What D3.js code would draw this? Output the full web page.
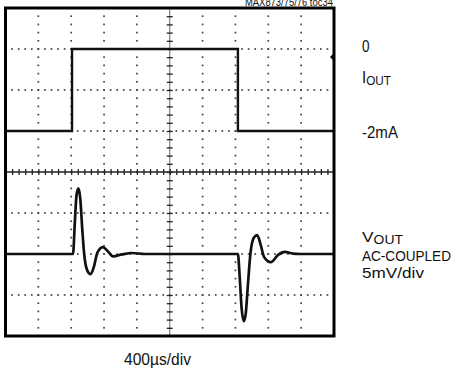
<!DOCTYPE html>
<html>
<head>
<meta charset="utf-8">
<script src="https://cdn.jsdelivr.net/npm/d3@7"></script>
<style>
  html, body { margin: 0; padding: 0; background: #fff; }
  svg { display: block; }
  text { font-family: "Liberation Sans", Arial, sans-serif; fill: #111; }
</style>
</head>
<body>
<svg id="scope" width="456" height="373"></svg>
<script>
// Time base: 10 divisions of 400 µs
const timeDivs = 10;
const usPerDiv = 400;
const ampDivs = 8;

// Output current step (mA): 0 mA between the two edges, -2 mA otherwise
const currentTime = [0, 810, 810, 2830, 2830, 4000];
const currentValue = [-2, -2, 0, 0, -2, -2];

// Output voltage, AC-coupled (mV)
const voltageTime = [0, 822, 845, 865, 888, 910, 935, 958, 995, 1035, 1075, 1120, 1185, 1245, 1310, 1420, 1540, 1700,
  2830, 2850, 2875, 2903, 2925, 2950, 2982, 3025, 3065, 3105, 3150, 3232, 3320, 3400, 3500, 3590, 4000];
const voltageValue = [0, 0, 4.0, 7.2, 8.0, 6.8, 3.0, 0, -2.0, -2.45, -1.6, 0.2, 0.85, 0.35, -0.3, -0.05, 0.12, 0,
  0, -2.5, -6.6, -8.2, -7.3, -4.0, 0, 2.0, 2.3, 1.2, -0.4, -1.0, -0.1, 0.25, 0.05, 0, 0];

// Labels
const rightLabels = ["0", "-2mA"];
const timeLabel = "400\u00B5s/div";
const voltLabelLines = ["AC-COUPLED", "5mV/div"];
const plotTitle = "MAX873/75/76 toc34";

const svg = d3.select("#scope");
const frame = { x0: 5.5, x1: 334, y0: 8, y1: 336 };

const x = d3.scaleLinear().domain([0, timeDivs * usPerDiv]).range([frame.x0, frame.x1]);
// Current channel: 1 mA/div, 0 mA one division below the top
const yI = d3.scaleLinear().domain([1, 1 - ampDivs]).range([frame.y0, frame.y1]);
// Voltage channel: 5 mV/div, 0 mV six divisions below the top
const yV = d3.scaleLinear().domain([30, 30 - 5 * ampDivs]).range([frame.y0, frame.y1]);
// Division grid scale for the graticule
const gy = d3.scaleLinear().domain([0, ampDivs]).range([frame.y0, frame.y1]);

const g = svg.append("g");

// Dotted graticule lines
const dotSize = 1.7;
const dots = [];
for (let i = 1; i < timeDivs; i++) {
  if (i === timeDivs / 2) continue;
  for (let k = 1; k < ampDivs * 5; k++) dots.push([x(i * usPerDiv), gy(k / 5)]);
}
for (let j = 1; j < ampDivs; j++) {
  if (j === ampDivs / 2) continue;
  for (let k = 1; k < timeDivs * 5; k++) dots.push([x(k * usPerDiv / 5), gy(j)]);
}
g.selectAll("rect.dot").data(dots).join("rect")
  .attr("class", "dot")
  .attr("x", d => d[0] - dotSize / 2).attr("y", d => d[1] - dotSize / 2)
  .attr("width", dotSize).attr("height", dotSize)
  .attr("fill", "#444");

// Centre axes with minor ticks
const cx = x(timeDivs / 2 * usPerDiv);
const cy = gy(ampDivs / 2);
g.append("line").attr("x1", frame.x0).attr("x2", frame.x1).attr("y1", cy).attr("y2", cy)
  .attr("stroke", "#222").attr("stroke-width", 1.3);
g.append("line").attr("x1", cx).attr("x2", cx).attr("y1", frame.y0).attr("y2", frame.y1)
  .attr("stroke", "#555").attr("stroke-width", 0.9);

const minorT = d3.range(1, timeDivs * 5).map(k => k * usPerDiv / 5);
const hAxis = d3.axisBottom(x).tickValues(minorT).tickSize(6).tickFormat("");
g.append("g").attr("transform", `translate(0,${cy - 3})`).call(hAxis)
  .call(s => s.select(".domain").remove())
  .call(s => s.selectAll(".tick line").attr("stroke", "#222").attr("stroke-width", 1.3));

const minorA = d3.range(1, ampDivs * 5).map(k => k / 5);
const vAxis = d3.axisRight(gy).tickValues(minorA).tickSize(6).tickFormat("");
g.append("g").attr("transform", `translate(${cx - 3},0)`).call(vAxis)
  .call(s => s.select(".domain").remove())
  .call(s => s.selectAll(".tick line").attr("stroke", "#222").attr("stroke-width", 1.3));

// Traces
const iLine = d3.line().x(d => x(d[0])).y(d => yI(d[1]));
g.append("path").datum(d3.zip(currentTime, currentValue))
  .attr("d", iLine).attr("fill", "none").attr("stroke", "#111").attr("stroke-width", 2.4);

const vLine = d3.line().x(d => x(d[0])).y(d => yV(d[1])).curve(d3.curveMonotoneX);
g.append("path").datum(d3.zip(voltageTime, voltageValue))
  .attr("d", vLine).attr("fill", "none").attr("stroke", "#111").attr("stroke-width", 2.7)
  .attr("stroke-linejoin", "round");

// Frame
g.append("rect").attr("x", frame.x0).attr("y", frame.y0)
  .attr("width", frame.x1 - frame.x0).attr("height", frame.y1 - frame.y0)
  .attr("fill", "none").attr("stroke", "#000").attr("stroke-width", 3);

// Channel marker on the right edge
g.append("path")
  .attr("d", `M${frame.x1 - 4},57 L${frame.x1 + 1},52 L${frame.x1 + 1},62 Z`)
  .attr("fill", "#000");

// Texts: a condensed look made by squeezing each label horizontally to a set width
function label(build, xPos, yPos, size, width) {
  const holder = svg.append("g");
  const t = holder.append("text").attr("x", 0).attr("y", 0).attr("font-size", size);
  build(t);
  const natural = t.node().getComputedTextLength();
  holder.attr("transform", `translate(${xPos},${yPos}) scale(${width / natural},1)`);
  return holder;
}
const plain = s => t => t.text(s);
const subscripted = (main, sub) => t => {
  t.append("tspan").text(main);
  t.append("tspan").attr("dy", 2).attr("font-size", 12.5).text(sub);
};

label(plain(plotTitle), 245, 6, 10, 88);

const lx = 362;
label(plain(rightLabels[0]), lx, 52, 16, 7.5);
label(subscripted("I", "OUT"), lx, 83, 16, 29);
label(plain(rightLabels[1]), lx, 138, 16, 36);

label(subscripted("V", "OUT"), lx, 242, 15.5, 41);
label(plain(voltLabelLines[0]), lx, 260.5, 15, 89);
label(plain(voltLabelLines[1]), lx, 277.5, 15, 62);

label(plain(timeLabel), 124, 365, 16, 67);
</script>
</body>
</html>
